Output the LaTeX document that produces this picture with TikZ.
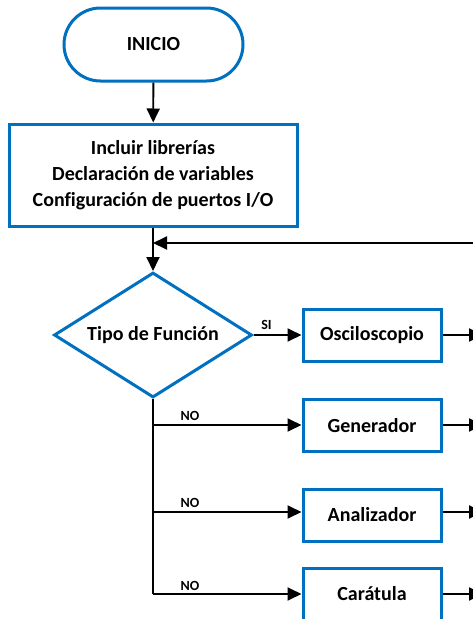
\documentclass[tikz,border=0pt]{standalone}
\usepackage{fontspec}
\setmainfont[Ligatures=NoCommon]{Carlito}
\usetikzlibrary{arrows.meta,shapes.geometric}
\definecolor{bblue}{HTML}{0070C0}
\begin{document}
\begin{tikzpicture}[x=1pt,y=-1pt,
  box/.style={draw=bblue,line width=3pt,fill=white,font=\bfseries\fontsize{20}{26}\selectfont,align=center,inner sep=0pt},
  conn/.style={line width=1.9pt,-{Triangle[length=14pt,width=13pt]}},
  plain/.style={line width=1.9pt},
  lbl/.style={font=\bfseries\fontsize{14}{16}\selectfont,inner sep=0pt}]
\useasboundingbox (0,0) rectangle (473,619);
\node[box,minimum width=179pt,minimum height=73pt,rounded corners=36.5pt] (inicio) at (153.5,44.5) {INICIO};
\node[box,minimum width=288pt,minimum height=102pt] (decl) at (153,175) {Incluir librerías\\Declaración de variables\\Configuración de puertos I/O};
\node[box,diamond,shape aspect=1.584,minimum width=198pt,minimum height=125pt] (dia) at (153,335) {Tipo de Función};
\node[box,minimum width=138pt,minimum height=52pt] (osc) at (372,335) {Osciloscopio};
\node[box,minimum width=138pt,minimum height=52pt] (gen) at (372,425.5) {Generador};
\node[box,minimum width=138pt,minimum height=52pt] (ana) at (372,515) {Analizador};
\node[box,minimum width=138pt,minimum height=52pt] (car) at (372,594) {Carátula};
\coordinate (b1) at (153,425);
\coordinate (b2) at (153,512);
\coordinate (b3) at (153,594);
\coordinate (fb) at (480,243);
\coordinate (o1) at (483,335);
\coordinate (o2) at (483,425);
\coordinate (o3) at (483,512);
\coordinate (o4) at (483,594);
\draw[conn] (inicio) -- (decl);
\draw[conn] (decl) -- (dia);
\draw[conn] (fb) -- (fb -| decl.south);
\draw[conn] (dia.east) -- (osc.west);
\draw[plain] (dia.south) -- (b3);
\draw[conn] (b1) -- (b1 -| gen.west);
\draw[conn] (b2) -- (b2 -| ana.west);
\draw[conn] (b3) -- (b3 -| car.west);
\draw[conn] (osc.east) -- (o1);
\draw[conn] (gen.east |- o2) -- (o2);
\draw[conn] (ana.east |- o3) -- (o3);
\draw[conn] (car.east |- o4) -- (o4);
\node[lbl] (si) at (266.5,325) {SI};
\node[lbl] (no1) at (190,415.5) {NO};
\node[lbl] (no2) at (190,502.5) {NO};
\node[lbl] (no3) at (190,585.5) {NO};
\end{tikzpicture}
\end{document}
